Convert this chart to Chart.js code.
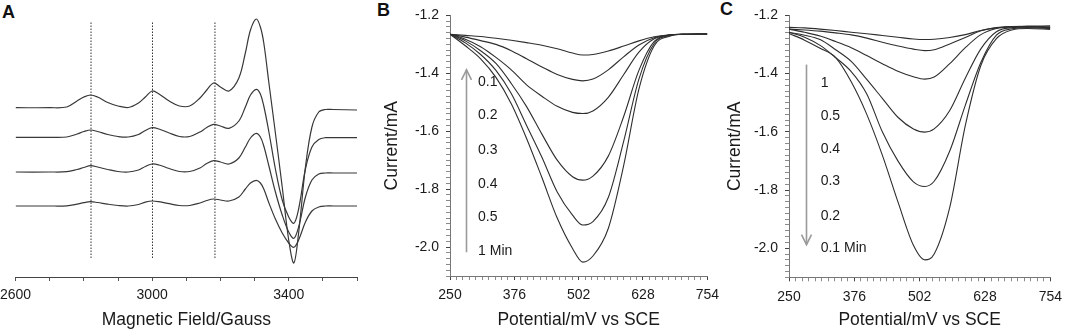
<!DOCTYPE html>
<html>
<head>
<meta charset="utf-8">
<script src="https://cdn.jsdelivr.net/npm/chart.js@4"></script>
<style>
  html, body { margin:0; padding:0; background:#fff; overflow:hidden; }
  body { width:1065px; height:332px; position:relative; font-family:'Liberation Sans', Arial, sans-serif; }
  canvas { position:absolute; top:0; }
  .letra { position:absolute; font-weight:bold; font-size:18px; line-height:18px; color:#111; }
</style>
</head>
<body>
<div class="letra" style="left:2px;top:3px">A</div>
<div class="letra" style="left:377px;top:1px">B</div>
<div class="letra" style="left:720px;top:0px">C</div>
<canvas id="grafico0" width="369" height="332" style="left:-6px"></canvas>
<canvas id="grafico1" width="356" height="332" style="left:370px"></canvas>
<canvas id="grafico2" width="356" height="332" style="left:713px"></canvas>
<script>
//Gráfico A - espectros EPR (intensidade em u.a.)
const campo = [2600, 2700, 2750, 2780, 2800, 2820, 2840, 2870, 2900, 2930, 2960, 2980, 3000, 3020, 3050, 3080, 3110, 3140, 3160, 3180,
               3200, 3225, 3254, 3273, 3288, 3305, 3317, 3327, 3342, 3361, 3381, 3400, 3415, 3429, 3449, 3468, 3488, 3507, 3530, 3600];
const epr1 = [169.3, 169.3, 170, 176, 180, 182, 180, 174.5, 171, 169.5, 174, 180, 186, 183, 176, 171, 171, 179, 187, 194,
              190, 186, 199, 224, 247, 258, 250, 234, 194, 144, 90, 37, 14, 44, 110, 150, 165, 167.5, 167.5, 167];
const epr2 = [139.7, 139.7, 140, 143, 145.5, 147, 145.5, 142.5, 140.5, 140, 142.5, 146.5, 149.3, 148, 144, 140.5, 140.5, 145, 149.5, 152.7,
              151, 148.7, 156, 170, 182, 187.7, 183, 171, 145, 108, 77, 60, 53.7, 68, 108, 130, 137.5, 139.3, 139.3, 139.3];
const epr3 = [105, 105, 105.3, 107.5, 109.5, 111.3, 110, 107.5, 105.5, 105, 107, 110.5, 113, 112, 108.5, 105.5, 105.5, 109, 113.5, 116.3,
              115, 113, 119, 130, 139, 143.7, 140, 131, 111, 85, 62, 45, 38.7, 50, 80, 97, 103, 104, 104, 104];
const epr4 = [71, 71, 71.2, 72.8, 74.3, 75.3, 74.5, 72.8, 71.5, 71, 72.5, 74.8, 76, 75.3, 73.3, 71.5, 71.5, 74, 76.5, 78,
              77, 76, 80, 88, 94, 96.7, 94, 88, 74, 58, 44, 34, 29.7, 37, 55, 66, 70, 71, 71, 71];
const linhasPontilhadas = [2821, 3001, 3184];
const pontilhadoBase = 19;
const pontilhadoTopo = 255;
const rotulosCampo = [2600, 3000, 3400];

//Gráficos B e C - corrente (mA) x potencial (mV vs SCE)
const potencialB = [250, 280, 310, 340, 370, 400, 430, 460, 490, 510, 530, 560, 590, 620, 650, 680, 710, 754];
const correnteB = [
  [-1.265, -1.269, -1.273, -1.279, -1.286, -1.294, -1.303, -1.315, -1.330, -1.337, -1.335, -1.323, -1.306, -1.288, -1.274, -1.267, -1.265, -1.264],
  [-1.265, -1.275, -1.287, -1.300, -1.322, -1.350, -1.378, -1.404, -1.421, -1.426, -1.420, -1.388, -1.343, -1.302, -1.277, -1.268, -1.265, -1.264],
  [-1.265, -1.282, -1.308, -1.345, -1.388, -1.440, -1.479, -1.514, -1.535, -1.539, -1.530, -1.483, -1.405, -1.327, -1.281, -1.268, -1.265, -1.264],
  [-1.265, -1.288, -1.322, -1.366, -1.435, -1.515, -1.610, -1.700, -1.757, -1.769, -1.755, -1.686, -1.550, -1.390, -1.290, -1.268, -1.265, -1.264],
  [-1.265, -1.295, -1.335, -1.390, -1.470, -1.580, -1.690, -1.810, -1.890, -1.924, -1.912, -1.829, -1.636, -1.420, -1.297, -1.270, -1.265, -1.264],
  [-1.265, -1.305, -1.350, -1.414, -1.505, -1.625, -1.760, -1.900, -2.005, -2.052, -2.031, -1.936, -1.720, -1.455, -1.305, -1.272, -1.265, -1.264]
];
const rotulosB = ['0.1', '0.2', '0.3', '0.4', '0.5', '1 Min'];
const niveisB = [-1.432, -1.546, -1.664, -1.782, -1.896, -2.014];
const rotuloXB = 305;
const setaB = [281, -2.018, -1.388];

const potencialC = [250, 280, 310, 340, 370, 400, 430, 460, 490, 512, 530, 560, 590, 620, 650, 680, 710, 754];
const correnteC = [
  [-1.241, -1.243, -1.247, -1.252, -1.258, -1.263, -1.269, -1.275, -1.281, -1.283, -1.282, -1.276, -1.266, -1.252, -1.243, -1.239, -1.238, -1.240],
  [-1.247, -1.250, -1.254, -1.260, -1.267, -1.278, -1.292, -1.305, -1.316, -1.321, -1.318, -1.298, -1.276, -1.253, -1.242, -1.238, -1.237, -1.236],
  [-1.247, -1.258, -1.271, -1.290, -1.311, -1.338, -1.366, -1.392, -1.411, -1.419, -1.412, -1.366, -1.311, -1.266, -1.245, -1.239, -1.238, -1.240],
  [-1.258, -1.268, -1.283, -1.318, -1.358, -1.420, -1.485, -1.550, -1.590, -1.601, -1.590, -1.527, -1.416, -1.315, -1.256, -1.242, -1.240, -1.242],
  [-1.258, -1.275, -1.303, -1.345, -1.393, -1.470, -1.600, -1.700, -1.772, -1.788, -1.770, -1.666, -1.509, -1.362, -1.268, -1.246, -1.242, -1.245],
  [-1.262, -1.285, -1.313, -1.345, -1.428, -1.540, -1.680, -1.840, -1.990, -2.040, -2.020, -1.860, -1.579, -1.372, -1.280, -1.250, -1.245, -1.248]
];
const rotulosC = ['1', '0.5', '0.4', '0.3', '0.2', '0.1 Min'];
const niveisC = [-1.433, -1.547, -1.661, -1.770, -1.889, -2.000];
const rotuloXC = 311;
const setaC = [282, -1.369, -1.988];

const rotulosPotencial = [250, 376, 502, 628, 754];
const rotulosCorrente = [-1.2, -1.4, -1.6, -1.8, -2.0];

const fonte = "'Liberation Sans', Arial, sans-serif";
const corTexto = '#1a1a1a';

function ticksDe(inicio, fim, passo) {
  const lista = [];
  const n = Math.round((fim - inicio) / passo);
  for (let i = 0; i <= n; i++) lista.push({ value: Math.round((inicio + i * passo) * 10000) / 10000 });
  return lista;
}

function ehRotulo(v, lista) {
  return lista.some((r) => Math.abs(r - v) < 1e-6);
}

// rótulos de tempo e seta
const anotacoes = {
  id: 'anotacoes',
  afterDatasetsDraw(chart, args, opts) {
    const ctx = chart.ctx;
    const x = chart.scales.x;
    const y = chart.scales.y;
    ctx.save();
    ctx.font = '14px ' + fonte;
    ctx.fillStyle = corTexto;
    ctx.textBaseline = 'middle';
    ctx.textAlign = 'left';
    for (let i = 0; i < opts.rotulos.length; i++) {
      ctx.fillText(opts.rotulos[i], x.getPixelForValue(opts.xRotulo), y.getPixelForValue(opts.niveis[i]));
    }
    const sx = Math.round(x.getPixelForValue(opts.seta[0])) + 0.5;
    const y0 = y.getPixelForValue(opts.seta[1]);
    const y1 = y.getPixelForValue(opts.seta[2]);
    const dir = y1 < y0 ? 1 : -1;
    ctx.strokeStyle = '#9a9a9a';
    ctx.lineWidth = 1.6;
    ctx.beginPath();
    ctx.moveTo(sx, y0);
    ctx.lineTo(sx, y1);
    ctx.stroke();
    ctx.beginPath();
    ctx.moveTo(sx - 5, y1 + dir * 10);
    ctx.lineTo(sx, y1);
    ctx.lineTo(sx + 5, y1 + dir * 10);
    ctx.stroke();
    ctx.restore();
  }
};

Chart.defaults.font.family = fonte;
Chart.defaults.color = corTexto;

var datasetsA = [epr1, epr2, epr3, epr4].map((serie) => ({
  data: campo.map((g, i) => ({ x: g, y: serie[i] })),
  borderColor: '#383838',
  borderWidth: 1.2,
  pointRadius: 0,
  tension: 0.35
}));
linhasPontilhadas.forEach((g) => {
  datasetsA.push({
    data: [{ x: g, y: pontilhadoBase }, { x: g, y: pontilhadoTopo }],
    borderColor: '#333',
    borderWidth: 1,
    borderDash: [1.5, 1.5],
    pointRadius: 0
  });
});

new Chart(document.getElementById('grafico0'), {
  type: 'line',
  data: { datasets: datasetsA },
  options: {
    responsive: false,
    animation: false,
    layout: { padding: { left: 0, right: 0, top: 5, bottom: 0 } },
    plugins: { legend: { display: false }, tooltip: { enabled: false } },
    scales: {
      x: {
        type: 'linear',
        min: 2600,
        max: 3600,
        afterBuildTicks: (s) => { s.ticks = ticksDe(2600, 3600, 100); },
        afterFit: (s) => { s.height = 55; },
        ticks: {
          autoSkip: false,
          maxRotation: 0,
          padding: 6,
          font: { size: 14 },
          color: corTexto,
          callback: (v) => (ehRotulo(v, rotulosCampo) ? String(v) : '')
        },
        grid: { display: true, drawOnChartArea: false, tickLength: 4, color: '#555' },
        border: { display: true, color: '#444', width: 1 },
        title: { display: true, text: 'Magnetic Field/Gauss', font: { size: 17.5 }, color: corTexto, padding: { top: 0, bottom: 1 } }
      },
      y: { display: false, min: 0, max: 272 }
    }
  }
});

function graficoVoltametria(id, potencial, correntes, rotulos, niveis, xRotulo, seta, topo, alturaX, larguraY) {
  new Chart(document.getElementById(id), {
    type: 'line',
    data: {
      datasets: correntes.map((serie) => ({
        data: potencial.map((p, i) => ({ x: p, y: serie[i] })),
        borderColor: '#2e2e2e',
        borderWidth: 1.1,
        pointRadius: 0,
        cubicInterpolationMode: 'monotone'
      }))
    },
    plugins: [anotacoes],
    options: {
      responsive: false,
      animation: false,
      layout: { padding: { left: 7.5, right: 0, top: topo, bottom: 0 } },
      plugins: {
        legend: { display: false },
        tooltip: { enabled: false },
        anotacoes: { rotulos: rotulos, niveis: niveis, xRotulo: xRotulo, seta: seta }
      },
      scales: {
        x: {
          type: 'linear',
          min: 250,
          max: 754,
          afterBuildTicks: (s) => { s.ticks = ticksDe(250, 754, 12.6); },
          afterFit: (s) => { s.height = alturaX; },
          ticks: {
            autoSkip: false,
            maxRotation: 0,
            padding: 7,
            font: { size: 14 },
            color: corTexto,
            callback: (v) => (ehRotulo(v, rotulosPotencial) ? String(v) : '')
          },
          grid: {
            display: true,
            drawOnChartArea: false,
            tickLength: 4,
            tickColor: (c) => (c.tick && ehRotulo(c.tick.value, rotulosPotencial) ? '#444' : '#8a8a8a')
          },
          border: { display: true, color: '#777', width: 1 },
          title: { display: true, text: 'Potential/mV vs SCE', font: { size: 17.5 }, color: corTexto, padding: { top: 0, bottom: 1 } }
        },
        y: {
          min: -2.1,
          max: -1.2,
          afterBuildTicks: (s) => { s.ticks = ticksDe(-2.1, -1.2, 0.02); },
          afterFit: (s) => { s.width = larguraY; },
          ticks: {
            autoSkip: false,
            padding: 7,
            font: { size: 14 },
            color: corTexto,
            callback: (v) => (ehRotulo(v, rotulosCorrente) ? v.toFixed(1) : '')
          },
          grid: {
            display: true,
            drawOnChartArea: false,
            tickLength: 4,
            tickColor: (c) => (c.tick && ehRotulo(c.tick.value, rotulosCorrente) ? '#444' : '#8a8a8a')
          },
          border: { display: true, color: '#777', width: 1 },
          title: { display: true, text: 'Current/mA', font: { size: 17.5 }, color: corTexto, padding: { top: 4, bottom: 0 } }
        }
      }
    }
  });
}

graficoVoltametria('grafico1', potencialB, correnteB, rotulosB, niveisB, rotuloXB, setaB, 8.6, 56, 72.5);
graficoVoltametria('grafico2', potencialC, correnteC, rotulosC, niveisC, rotuloXC, setaC, 6.3, 54.7, 68.5);
</script>
</body>
</html>
